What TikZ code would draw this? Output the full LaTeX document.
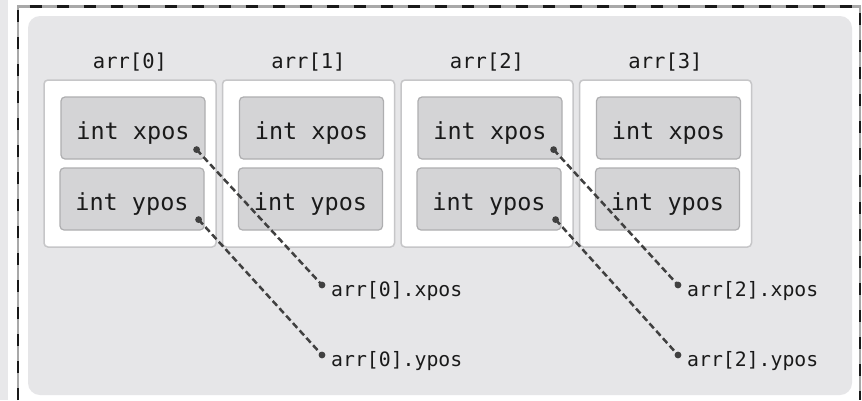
\documentclass[tikz,border=0pt]{standalone}
\usepackage{fontspec}
\setmonofont{DejaVu Sans Mono}
\definecolor{stripgray}{HTML}{E8E8EA}
\definecolor{panelgray}{HTML}{E6E6E8}
\definecolor{elemborder}{HTML}{C6C6C8}
\definecolor{fieldfill}{HTML}{D4D4D6}
\definecolor{fieldborder}{HTML}{AEAEB0}
\definecolor{txt}{HTML}{1A1A1A}
\definecolor{linkcol}{HTML}{404040}
\definecolor{framegap}{HTML}{A8A8A8}
\tikzset{
  elembox/.style={draw=elemborder, line width=1.5pt, fill=white, rounded corners=4pt,
    minimum width=172pt, minimum height=167pt, inner sep=0pt},
  fieldbox/.style={draw=fieldborder, line width=1.2pt, fill=fieldfill, rounded corners=4pt,
    minimum width=144pt, minimum height=62pt, inner sep=0pt, text=txt,
    text height=22pt, text depth=0pt,
    font=\ttfamily\fontsize{23.5}{26}\selectfont},
  headlabel/.style={text=txt, inner sep=0pt, anchor=base, font=\ttfamily\fontsize{20.5}{24}\selectfont},
  reflabel/.style={text=txt, inner sep=0pt, anchor=base west, font=\ttfamily\fontsize{19.8}{23}\selectfont},
  link/.style={draw=linkcol, line width=2.5pt, dash pattern=on 6.5pt off 3.5pt},
  dotmark/.style={fill=linkcol},
}
\begin{document}
\begin{tikzpicture}[x=1pt,y=-1pt]
\useasboundingbox (0,0) rectangle (862,400);
\fill[white] (0,0) rectangle (862,400);
\fill[stripgray] (0,0) rectangle (8,400);
% dashed frame
\draw[framegap, line width=2.5pt] (18,400) -- (18,6.5) -- (860,6.5) -- (860,400);
\draw[black!90, line width=2.5pt, dash pattern=on 12pt off 15pt] (18,400) -- (18,6.5) -- (860,6.5) -- (860,400);
% panel
\fill[panelgray, rounded corners=12pt] (28,16) rectangle (852,395);
% elements
\foreach \i in {0,1,2,3} {
  \node[elembox] (elem\i) at ({130+178.5*\i},163.5) {};
  \node[headlabel] (head\i) at ({130+178.5*\i},68) {arr[\i]};
  \node[fieldbox] (xpos\i) at ({133+178.5*\i},128) {int xpos};
  \node[fieldbox] (ypos\i) at ({132+178.5*\i},199) {int ypos};
}
% reference labels
\node[reflabel] (rx0) at (331,296) {arr[0].xpos};
\node[reflabel] (ry0) at (331,366) {arr[0].ypos};
\node[reflabel] (rx2) at (687,296) {arr[2].xpos};
\node[reflabel] (ry2) at (687,366) {arr[2].ypos};
% dot coordinates
\foreach \i in {0,2} {
  \coordinate (sx\i) at ([xshift=-9pt,yshift=10pt]xpos\i.south east);
  \coordinate (sy\i) at ([xshift=-6pt,yshift=11pt]ypos\i.south east);
}
\foreach \n in {rx0,ry0,rx2,ry2} {
  \coordinate (e\n) at ([xshift=-9pt,yshift=11pt]\n.base west);
}
\draw[link] (sx0) -- (erx0);
\draw[link] (sy0) -- (ery0);
\draw[link] (sx2) -- (erx2);
\draw[link] (sy2) -- (ery2);
\foreach \c in {sx0,sy0,sx2,sy2,erx0,ery0,erx2,ery2} {
  \fill[dotmark] (\c) circle (3.4pt);
}
\end{tikzpicture}
\end{document}
